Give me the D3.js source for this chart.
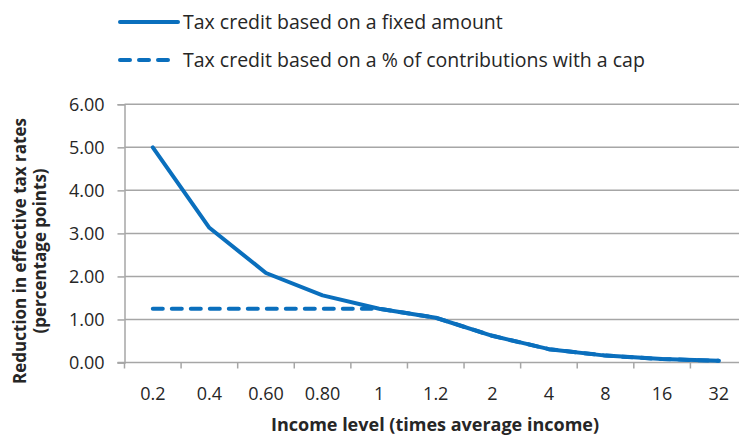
<!DOCTYPE html>
<html>
<head>
<meta charset="utf-8">
<script src="https://cdn.jsdelivr.net/npm/d3@7/dist/d3.min.js"></script>
<style>
  html, body { margin: 0; padding: 0; background: #fff; }
  svg { display: block; }
  text { font-family: "Open Sans", Lato, sans-serif; fill: #262626; }
</style>
</head>
<body>
<svg id="chart" width="739" height="436"></svg>
<script>
// Income levels (multiples of average income)
const categories = ["0.2", "0.4", "0.60", "0.80", "1", "1.2", "2", "4", "8", "16", "32"];
// Reduction in effective tax rates, percentage points
const fixedAmount = [5.00, 3.13, 2.08, 1.56, 1.25, 1.04, 0.62, 0.31, 0.16, 0.08, 0.04];
const percentWithCap = [1.25, 1.25, 1.25, 1.25, 1.25, 1.04, 0.62, 0.31, 0.16, 0.08, 0.04];
const yTicks = [0, 1, 2, 3, 4, 5, 6];
const seriesNames = [
  "Tax credit based on a fixed amount",
  "Tax credit based on a % of contributions with a cap"
];

const blue = "#0a6fbd";
const grid = "#a6a6a6";
const dash = "10,9";

const svg = d3.select("#chart");
const plotLeft = 124.5, plotRight = 747, plotTop = 104.3, plotBottom = 362.5;

const x = d3.scaleBand().domain(categories).range([plotLeft, plotRight]).padding(0);
const y = d3.scaleLinear().domain([0, 6]).range([plotBottom, plotTop]);

// horizontal gridlines
svg.append("g")
  .selectAll("line")
  .data(yTicks.filter(d => d > 0))
  .join("line")
  .attr("x1", plotLeft).attr("x2", 739)
  .attr("y1", d => y(d)).attr("y2", d => y(d))
  .attr("stroke", grid).attr("stroke-width", 1.5);

// y axis
const yAxis = svg.append("g")
  .attr("transform", `translate(${plotLeft},0)`)
  .call(d3.axisLeft(y).tickValues(yTicks).tickFormat(d3.format(".2f")).tickSize(7).tickPadding(13));
yAxis.select(".domain").attr("stroke", grid).attr("stroke-width", 1.5);
yAxis.selectAll(".tick line").attr("stroke", grid).attr("stroke-width", 1.5);
yAxis.selectAll(".tick text").attr("font-size", 18).attr("fill", "#262626")
  .attr("font-family", "'Open Sans', Lato, sans-serif");

// x axis: line at zero with ticks on category boundaries
const xg = svg.append("g").attr("transform", `translate(0,${plotBottom})`);
xg.append("line").attr("x1", plotLeft - 7).attr("x2", 739)
  .attr("stroke", grid).attr("stroke-width", 1.5);
const bounds = categories.map(c => x(c)).concat([x(categories[categories.length - 1]) + x.bandwidth()]);
xg.selectAll("line.tick").data(bounds).join("line")
  .attr("class", "tick")
  .attr("x1", d => d).attr("x2", d => d)
  .attr("y1", 0).attr("y2", 6)
  .attr("stroke", grid).attr("stroke-width", 1.5);
xg.selectAll("text").data(categories).join("text")
  .attr("x", d => x(d) + x.bandwidth() / 2)
  .attr("y", 37)
  .attr("text-anchor", "middle")
  .attr("font-size", 18)
  .text(d => d);

const cx = d => x(d) + x.bandwidth() / 2;
const line = d3.line().x((d, i) => cx(categories[i])).y(d => y(d));

// capped series (dashed) underneath, fixed-amount series on top
svg.append("path")
  .datum(percentWithCap)
  .attr("d", line)
  .attr("fill", "none").attr("stroke", blue).attr("stroke-width", 4)
  .attr("stroke-dasharray", dash).attr("stroke-linecap", "round");
svg.append("path")
  .datum(fixedAmount)
  .attr("d", line)
  .attr("fill", "none").attr("stroke", blue).attr("stroke-width", 4)
  .attr("stroke-linejoin", "round").attr("stroke-linecap", "round");

// legend
const legend = svg.append("g");
const legendRows = [
  { name: seriesNames[0], y: 22, dash: null },
  { name: seriesNames[1], y: 60, dash: dash }
];
legendRows.forEach(r => {
  legend.append("line")
    .attr("x1", 120).attr("x2", r.dash ? 172 : 178)
    .attr("y1", r.y).attr("y2", r.y)
    .attr("stroke", blue).attr("stroke-width", 4).attr("stroke-linecap", "round")
    .attr("stroke-dasharray", r.dash);
  legend.append("text")
    .attr("x", 183).attr("y", r.y + 6.5)
    .attr("font-size", 19.5)
    .text(r.name);
});

// axis titles
svg.append("text")
  .attr("x", 435).attr("y", 431)
  .attr("text-anchor", "middle")
  .attr("font-size", 18).attr("font-weight", "bold")
  .text("Income level (times average income)");

const yt = svg.append("text")
  .attr("transform", "translate(0,251) rotate(-90)")
  .attr("text-anchor", "middle")
  .attr("font-size", 17).attr("font-weight", "bold");
yt.append("tspan").attr("x", 0).attr("y", 26).text("Reduction in effective tax rates");
yt.append("tspan").attr("x", 0).attr("y", 46).text("(percentage points)");
</script>
</body>
</html>
